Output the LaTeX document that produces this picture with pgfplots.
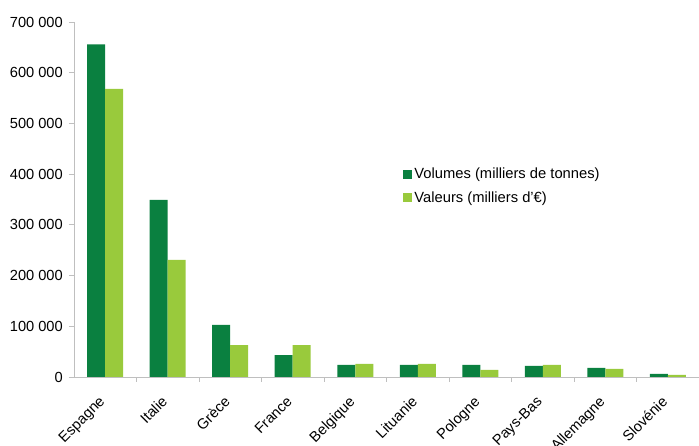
\documentclass[border=0pt]{standalone}
\usepackage{pgfplots}
\pgfplotsset{compat=1.18}
\usepackage{fontspec}
\setmainfont{Liberation Sans}
\definecolor{vol}{HTML}{0A8040}
\definecolor{val}{HTML}{99CA3C}
\definecolor{axgray}{HTML}{BFBFBF}

\begin{document}
\begin{tikzpicture}
\begin{axis}[
    scale only axis,
    width=625bp, height=355bp,
    ybar=0pt,
    bar width=18bp,
    ymin=0, ymax=700000,
    ytick={0,100000,200000,300000,400000,500000,600000,700000},
    yticklabels={0, 100 000, 200 000, 300 000, 400 000, 500 000, 600 000, 700 000},
    scaled y ticks=false,
    xmin=-0.5, xmax=9.5,
    xtick={0,...,9},
    xticklabels={Espagne, Italie, Grèce, France, Belgique, Lituanie, Pologne, Pays-Bas, Allemagne, Slovénie},
    major x tick style={draw=none},
    minor xtick={0.5,1.5,...,8.5},
    minor tick length=5bp,
    major tick length=5bp,
    tick align=outside,
    tick style={axgray, line width=0.8pt},
    axis x line*=bottom,
    axis y line*=left,
    axis line style={axgray, line width=0.8pt, -},
    ticklabel style={font=\fontsize{14.7}{17}\selectfont, text=black},
    xticklabel shift=6bp,
    xticklabel style={rotate=45, anchor=north east, inner sep=0pt, xshift=-10bp},
    yticklabel style={inner sep=6bp},
    legend style={at={(0.522,0.6)}, anchor=north west, draw=none, fill=none,
        font=\fontsize{14.8}{17}\selectfont, row sep=7bp},
    legend cell align=left,
    legend image code/.code={\fill[#1] (0bp,-4.5bp) rectangle (9bp,4.5bp);},
]
\addplot[fill=vol, draw=none] coordinates {(0,656000) (1,349000) (2,103000) (3,43000) (4,24000) (5,24000) (6,24000) (7,22000) (8,18000) (9,6000)};
\addplot[fill=val, draw=none] coordinates {(0,568000) (1,231000) (2,63000) (3,63000) (4,26000) (5,26000) (6,14000) (7,24000) (8,16000) (9,4000)};
\legend{Volumes (milliers de tonnes), Valeurs (milliers d'€)}
\end{axis}
\pgfresetboundingbox
\path ([shift={(-74bp,-69bp)}]current axis.south west) rectangle ([shift={(0bp,22bp)}]current axis.north east);
\end{tikzpicture}
\end{document}
